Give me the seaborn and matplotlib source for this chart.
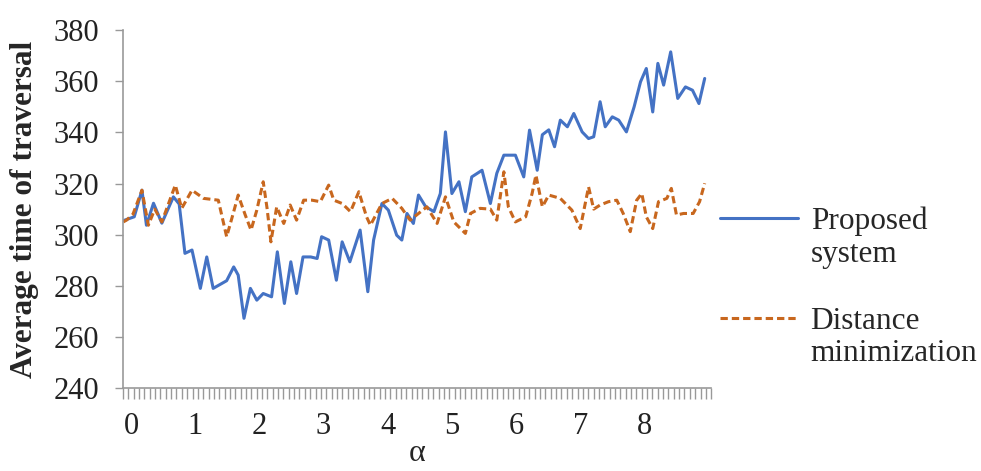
import numpy as np
import pandas as pd
import matplotlib
matplotlib.use("Agg")
import matplotlib.pyplot as plt
import seaborn as sns
from matplotlib.lines import Line2D
from matplotlib.ticker import FixedLocator

# Data
proposed_alpha = [-0.12, 0.05, 0.17, 0.24, 0.35, 0.48, 0.66, 0.75, 0.84, 0.95,
                  1.08, 1.18, 1.28, 1.49, 1.60, 1.67, 1.76, 1.86, 1.96, 2.06,
                  2.19, 2.28, 2.39, 2.49, 2.58, 2.68, 2.80, 2.90, 2.97, 3.08,
                  3.20, 3.29, 3.41, 3.57, 3.69, 3.78, 3.91, 4.01, 4.14, 4.22,
                  4.30, 4.40, 4.48, 4.59, 4.72, 4.82, 4.90, 5.00, 5.11, 5.21,
                  5.31, 5.47, 5.60, 5.70, 5.81, 5.99, 6.12, 6.21, 6.33, 6.41,
                  6.51, 6.60, 6.69, 6.80, 6.90, 7.03, 7.13, 7.21, 7.31, 7.39,
                  7.50, 7.60, 7.72, 7.84, 7.94, 8.03, 8.13, 8.21, 8.30, 8.41,
                  8.52, 8.64, 8.75, 8.85, 8.94]
proposed_time = [305.5, 307.0, 317.4, 303.7, 312.3, 304.5, 314.8, 312.0, 292.7, 294.0,
                 279.0, 291.3, 279.0, 282.0, 287.4, 284.2, 267.3, 279.0, 274.4, 277.0,
                 275.7, 293.3, 273.1, 289.4, 277.0, 291.3, 291.3, 290.7, 299.2, 297.9,
                 282.2, 297.2, 289.4, 301.8, 277.7, 297.9, 312.2, 309.6, 299.8, 297.9,
                 308.3, 304.4, 315.5, 311.0, 309.0, 316.1, 340.2, 316.1, 320.7, 309.0,
                 322.6, 325.2, 312.2, 324.0, 331.1, 331.1, 322.6, 340.9, 325.2, 339.1,
                 341.0, 334.4, 344.8, 342.2, 347.4, 340.2, 337.6, 338.3, 352.0, 342.2,
                 346.1, 344.8, 340.2, 350.0, 359.8, 365.0, 348.0, 367.0, 358.5, 371.5,
                 353.3, 357.8, 356.5, 351.3, 361.1]

distance_alpha = [-0.12, -0.07, 0.03, 0.17, 0.27, 0.37, 0.48, 0.69, 0.79, 0.95,
                  1.13, 1.36, 1.49, 1.60, 1.67, 1.78, 1.87, 1.96, 2.06, 2.12,
                  2.18, 2.27, 2.38, 2.48, 2.58, 2.69, 2.82, 2.95, 3.08, 3.16,
                  3.29, 3.42, 3.55, 3.67, 3.73, 3.91, 4.07, 4.22, 4.35, 4.48,
                  4.61, 4.77, 4.90, 5.03, 5.21, 5.29, 5.44, 5.60, 5.70, 5.81,
                  5.88, 5.99, 6.15, 6.25, 6.31, 6.41, 6.51, 6.69, 6.87, 7.00,
                  7.13, 7.21, 7.31, 7.44, 7.57, 7.67, 7.78, 7.88, 7.96, 8.03,
                  8.13, 8.22, 8.35, 8.42, 8.50, 8.61, 8.76, 8.86, 8.94]
distance_time = [305.0, 305.7, 308.0, 317.4, 303.7, 310.0, 305.0, 319.4, 310.3, 317.4,
                 314.2, 313.5, 299.2, 309.0, 315.5, 307.7, 301.8, 309.6, 320.7, 310.3,
                 297.2, 310.9, 304.4, 311.6, 305.7, 313.5, 313.5, 312.9, 319.4, 313.5,
                 312.2, 309.0, 316.8, 307.0, 303.7, 312.2, 314.2, 310.3, 305.7, 308.3,
                 310.9, 304.4, 314.8, 305.0, 300.5, 308.3, 310.3, 310.0, 305.7, 324.6,
                 310.9, 305.0, 307.0, 316.1, 323.3, 310.9, 315.5, 314.2, 309.6, 302.4,
                 318.7, 310.0, 311.6, 312.9, 313.5, 308.3, 301.2, 313.5, 316.1, 307.0,
                 302.4, 312.9, 314.2, 318.1, 307.7, 308.3, 308.3, 312.9, 320.1]

series_names = ["Proposed system", "Distance minimization"]
x_labels = [str(i) for i in range(9)]

df = pd.concat([
    pd.DataFrame({"alpha": proposed_alpha, "time": proposed_time, "series": series_names[0]}),
    pd.DataFrame({"alpha": distance_alpha, "time": distance_time, "series": series_names[1]}),
])

sns.set_style("white")
plt.rcParams["font.family"] = ["Liberation Serif", "DejaVu Serif"]

fig = plt.figure(figsize=(9.81, 4.71), dpi=100)
ax = fig.add_axes([0.1254, 0.176, 0.5996, 0.760])

palette = {series_names[0]: "#4472C4", series_names[1]: "#C8671E"}
dashes = {series_names[0]: "", series_names[1]: (2.4, 1.3)}
sns.lineplot(data=df, x="alpha", y="time", hue="series", style="series",
             palette=palette, dashes=dashes, estimator=None, sort=False,
             linewidth=2.2, ax=ax, legend=True)

ax.set_xlim(-1.5 / 12, 108.5 / 12)
ax.set_ylim(240, 380)
ax.set_yticks(np.arange(240, 381, 20))
ax.set_xticks(range(9))
ax.set_xticklabels(x_labels)
ax.xaxis.set_minor_locator(FixedLocator(np.arange(-1.5, 109, 1) / 12))
ax.tick_params(axis="x", which="major", length=0, labelsize=22, pad=17.5, colors="#222222")
ax.tick_params(axis="x", which="minor", length=8, width=1, color="#999999", direction="out", bottom=True)
ax.tick_params(axis="y", length=6, width=1, color="#999999", direction="out", left=True,
               labelsize=22, labelcolor="#222222", pad=11)

sns.despine(ax=ax)
for side in ["left", "bottom"]:
    ax.spines[side].set_color("#999999")
    ax.spines[side].set_linewidth(1.2)

ax.set_xlabel("α", fontsize=23, labelpad=-2)
ax.set_ylabel("Average time of traversal", fontsize=22.5, fontweight="bold", labelpad=11)

# legend: one block per series, label wrapped onto a second line
handles, labels = ax.get_legend_handles_labels()
ax.legend_.remove()
blank = Line2D([], [], color="none")
for i, (h, lab) in enumerate(zip(handles, labels)):
    first, second = lab.split(" ", 1)
    fig.legend([h, blank], [first, second], loc="upper left",
               bbox_to_anchor=(0.718, 0.594 - i * 0.212),
               frameon=False, fontsize=22.5, handlelength=2.5,
               handletextpad=0.4, labelspacing=0.12, borderpad=0)

fig.savefig("out.png", dpi=100)
